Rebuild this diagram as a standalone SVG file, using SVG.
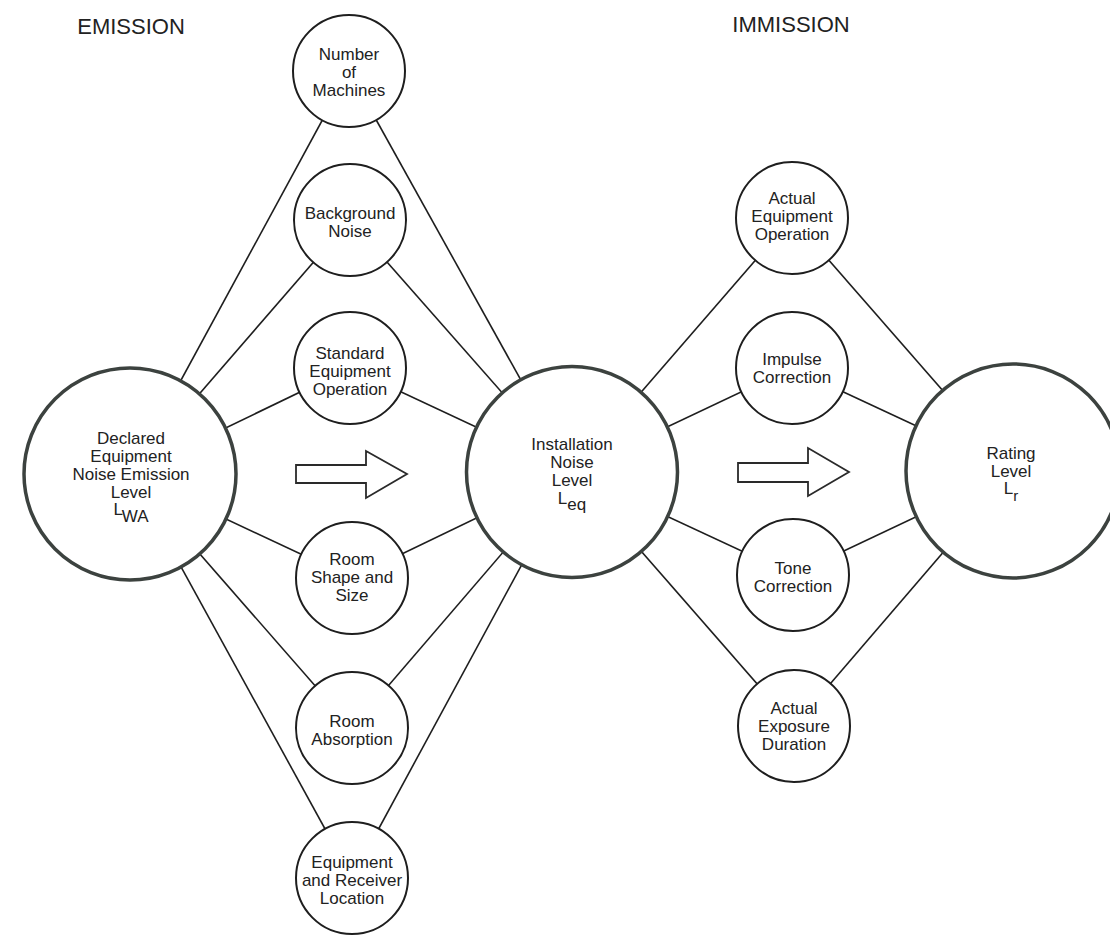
<svg xmlns="http://www.w3.org/2000/svg" width="1110" height="935" viewBox="0 0 1110 935">
<style>
.bg{fill:#ffffff}
.big{fill:#ffffff;stroke:#3c423f;stroke-width:3.5}
.small{fill:#ffffff;stroke:#1e1e1e;stroke-width:2}
.con line{stroke:#1e1e1e;stroke-width:1.6}
.arrow{fill:#ffffff;stroke:#2a2a2a;stroke-width:1.8;stroke-linejoin:miter}
text{font-family:"Liberation Sans",Arial,sans-serif;font-size:17px;fill:#222;text-anchor:middle}
.title{font-size:22px}
</style>
<rect class="bg" x="0" y="0" width="1110" height="935"/>
<text class="title" x="131" y="34">EMISSION</text>
<text class="title" x="791" y="32">IMMISSION</text>
<g id="connectors" class="con">
<line x1="130" y1="474" x2="349" y2="71"/>
<line x1="130" y1="474" x2="350" y2="220"/>
<line x1="130" y1="474" x2="350" y2="368"/>
<line x1="130" y1="474" x2="352" y2="578"/>
<line x1="130" y1="474" x2="352" y2="728"/>
<line x1="130" y1="474" x2="352" y2="878"/>
<line x1="572" y1="472" x2="349" y2="71"/>
<line x1="572" y1="472" x2="350" y2="220"/>
<line x1="572" y1="472" x2="350" y2="368"/>
<line x1="572" y1="472" x2="352" y2="578"/>
<line x1="572" y1="472" x2="352" y2="728"/>
<line x1="572" y1="472" x2="352" y2="878"/>
<line x1="572" y1="472" x2="792" y2="218"/>
<line x1="572" y1="472" x2="792" y2="368"/>
<line x1="572" y1="472" x2="793" y2="575"/>
<line x1="572" y1="472" x2="794" y2="726"/>
<line x1="1013" y1="471" x2="792" y2="218"/>
<line x1="1013" y1="471" x2="792" y2="368"/>
<line x1="1013" y1="471" x2="793" y2="575"/>
<line x1="1013" y1="471" x2="794" y2="726"/>
</g>
<g id="arrow1"><polygon class="arrow" points="296,465 366,465 366,451 407,474 366,498 366,483 296,483"/></g>
<g id="arrow2"><polygon class="arrow" points="738,463 808,463 808,448 849,472 808,496 808,482 738,482"/></g>
<g id="declared">
<circle class="big" cx="130" cy="474" r="106"/>
<text x="131" y="444">Declared</text>
<text x="131" y="462">Equipment</text>
<text x="131" y="480">Noise Emission</text>
<text x="131" y="498">Level</text>
<text x="131" y="515">L<tspan dy="7">WA</tspan></text>
</g>
<g id="installation">
<circle class="big" cx="572" cy="472" r="105.5"/>
<text x="572" y="450">Installation</text>
<text x="572" y="468">Noise</text>
<text x="572" y="486">Level</text>
<text x="572" y="504">L<tspan dy="6">eq</tspan></text>
</g>
<g id="rating">
<circle class="big" cx="1013" cy="471" r="107"/>
<text x="1011" y="459">Rating</text>
<text x="1011" y="477">Level</text>
<text x="1011" y="494">L<tspan dy="7" font-size="15">r</tspan></text>
</g>
<g id="machines">
<circle class="small" cx="349" cy="71" r="56"/>
<text x="349" y="60">Number</text>
<text x="349" y="78">of</text>
<text x="349" y="96">Machines</text>
</g>
<g id="background">
<circle class="small" cx="350" cy="220" r="56"/>
<text x="350" y="219">Background</text>
<text x="350" y="237">Noise</text>
</g>
<g id="standard">
<circle class="small" cx="350" cy="368" r="56"/>
<text x="350" y="359">Standard</text>
<text x="350" y="377">Equipment</text>
<text x="350" y="395">Operation</text>
</g>
<g id="roomshape">
<circle class="small" cx="352" cy="578" r="56"/>
<text x="352" y="565">Room</text>
<text x="352" y="583">Shape and</text>
<text x="352" y="601">Size</text>
</g>
<g id="absorption">
<circle class="small" cx="352" cy="728" r="56"/>
<text x="352" y="727">Room</text>
<text x="352" y="745">Absorption</text>
</g>
<g id="location">
<circle class="small" cx="352" cy="878" r="56"/>
<text x="352" y="868">Equipment</text>
<text x="352" y="886">and Receiver</text>
<text x="352" y="904">Location</text>
</g>
<g id="actualop">
<circle class="small" cx="792" cy="218" r="56"/>
<text x="792" y="204">Actual</text>
<text x="792" y="222">Equipment</text>
<text x="792" y="240">Operation</text>
</g>
<g id="impulse">
<circle class="small" cx="792" cy="368" r="56"/>
<text x="792" y="365">Impulse</text>
<text x="792" y="383">Correction</text>
</g>
<g id="tone">
<circle class="small" cx="793" cy="575" r="56"/>
<text x="793" y="574">Tone</text>
<text x="793" y="592">Correction</text>
</g>
<g id="exposure">
<circle class="small" cx="794" cy="726" r="56"/>
<text x="794" y="714">Actual</text>
<text x="794" y="732">Exposure</text>
<text x="794" y="750">Duration</text>
</g>
</svg>
